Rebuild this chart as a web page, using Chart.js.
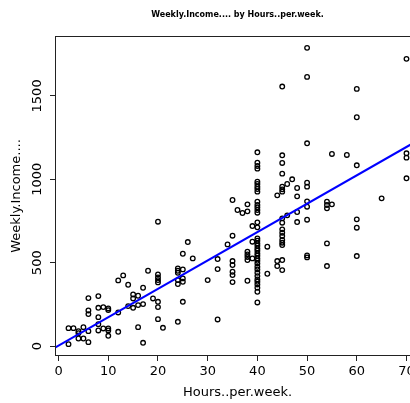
<!DOCTYPE html>
<html>
<head>
<meta charset="utf-8">
<title>Weekly Income by Hours per week</title>
<script src="https://cdn.jsdelivr.net/npm/chart.js@4.4.1/dist/chart.umd.min.js"></script>
<style>
    html, body { margin: 0; padding: 0; overflow: hidden; background: #fff; }
    #wrap { width: 410px; height: 403px; overflow: hidden; }
    canvas { display: block; }
</style>
</head>
<body>
<div id="wrap"><canvas id="scatterChart" width="440" height="403"></canvas></div>
<script>
(function () {
    'use strict';

    // ── Data ─────────────────────────────────────────────────────────
    var hourGroups = [2, 3, 4, 5, 6, 8, 9, 10, 12, 13, 14, 15, 16, 17, 18, 19, 20, 21,
                      24, 25, 26, 27, 30, 32, 34, 35, 36, 37, 38, 39, 40, 42, 44, 45,
                      46, 47, 48, 50, 54, 55, 58, 60, 65, 70];

    var incomeByHour = [
        [12, 108],
        [108],
        [90, 78, 46],
        [114, 46],
        [24, 90, 288, 214, 192],
        [300, 230, 174, 132, 94],
        [234, 106],
        [226, 216, 106, 94, 62],
        [394, 202, 86],
        [424],
        [368, 240],
        [310, 286, 230],
        [302, 246, 114],
        [350, 252, 20],
        [452],
        [286],
        [746, 430, 412, 396, 382, 266, 234, 162],
        [110],
        [466, 452, 440, 396, 372, 146],
        [554, 460, 406, 386, 266],
        [624],
        [526],
        [396],
        [522, 462, 160],
        [610],
        [876, 662, 510, 486, 446, 426, 384],
        [816],
        [798],
        [850, 808, 566, 550, 534, 516, 392],
        [720, 626, 526],
        [1162, 1100, 1080, 1064, 986, 972, 956, 942, 926, 866, 846, 832, 816, 800,
         742, 712, 646, 632, 616, 602, 586, 572, 556, 542, 526, 512, 496, 476,
         460, 440, 420, 400, 386, 370, 350, 326, 262],
        [596, 434],
        [904, 510, 480],
        [1556, 1144, 1098, 1034, 956, 940, 926, 766, 740, 700, 680, 660, 636, 620,
         606, 516, 456],
        [972, 784],
        [1000],
        [948, 898, 804, 744],
        [1788, 1614, 1216, 980, 956, 868, 836, 758, 544, 532],
        [866, 846, 826, 616, 480],
        [1152, 850],
        [1146],
        [1542, 1372, 1084, 760, 710, 540],
        [886],
        [1722, 1156, 1130, 1006]
    ];

    // fitted line (intercept / slope as seen in the picture)
    var fitIntercept = 4;
    var fitSlope     = 17.0;

    var xTicks = [0, 10, 20, 30, 40, 50, 60, 70];
    var yTicks = [0, 500, 1000, 1500];

    var xMin = -0.72, xMax = 72.72;
    var yMin = -59,   yMax = 1859;

    var FONT = "'DejaVu Sans', Verdana, sans-serif";

    // ── Build datasets ───────────────────────────────────────────────
    var points = [];
    hourGroups.forEach(function (h, i) {
        incomeByHour[i].forEach(function (v) { points.push({ x: h, y: v }); });
    });

    var fitLine = [
        { x: xMin, y: fitIntercept + fitSlope * xMin },
        { x: xMax, y: fitIntercept + fitSlope * xMax }
    ];

    // ── Extras: box, rotated y labels, main title ────────────────────
    var rExtras = {
        id: 'rExtras',
        afterDraw: function (chart) {
            var ctx = chart.ctx;
            var a = chart.chartArea;
            var ys = chart.scales.y;

            ctx.save();
            ctx.strokeStyle = '#222';
            ctx.lineWidth = 1;
            ctx.strokeRect(a.left + 0.5, a.top + 0.5, a.right - a.left, a.bottom - a.top - 1);

            ctx.fillStyle = '#000';
            ctx.font = '13px ' + FONT;
            ctx.textAlign = 'center';
            ctx.textBaseline = 'middle';
            yTicks.forEach(function (v) {
                ctx.save();
                ctx.translate(38, ys.getPixelForValue(v));
                ctx.rotate(-Math.PI / 2);
                ctx.fillText(String(v), 0, 0);
                ctx.restore();
            });

            ctx.font = 'bold 8px ' + FONT;
            ctx.fillText('Weekly.Income.... by Hours..per.week.', (a.left + a.right) / 2, 15);
            ctx.restore();
        }
    };

    var tickGrid = { display: true, drawOnChartArea: false, drawTicks: true, tickLength: 5, color: '#222', lineWidth: 1 };

    new Chart(document.getElementById('scatterChart'), {
        type: 'scatter',
        data: {
            datasets: [{
                type: 'line',
                data: fitLine,
                borderColor: '#0000ff',
                borderWidth: 2,
                pointRadius: 0,
                fill: false
            }, {
                data: points,
                pointStyle: 'circle',
                pointRadius: 2.3,
                borderWidth: 1.3,
                borderColor: '#000',
                backgroundColor: 'rgba(0,0,0,0)'
            }]
        },
        options: {
            responsive: false,
            animation: false,
            devicePixelRatio: 1,
            layout: { padding: { top: 36, right: 20, left: 0, bottom: 0 } },
            plugins: { legend: { display: false }, tooltip: { enabled: false } },
            scales: {
                x: {
                    type: 'linear',
                    min: xMin, max: xMax,
                    afterBuildTicks: function (s) { s.ticks = xTicks.map(function (v) { return { value: v }; }); },
                    afterFit: function (s) { s.height = 47; },
                    grid: tickGrid,
                    border: { display: false },
                    ticks: { color: '#000', font: { family: FONT, size: 13 }, padding: 3, maxRotation: 0, autoSkip: false },
                    title: { display: true, text: 'Hours..per.week.', color: '#000', font: { family: FONT, size: 13 }, padding: { top: 0, bottom: 3 } }
                },
                y: {
                    type: 'linear',
                    min: yMin, max: yMax,
                    afterBuildTicks: function (s) { s.ticks = yTicks.map(function (v) { return { value: v }; }); },
                    afterFit: function (s) { s.width = 55; },
                    grid: tickGrid,
                    border: { display: false },
                    ticks: { display: false },
                    title: { display: true, text: 'Weekly.Income....', color: '#000', font: { family: FONT, size: 13 }, padding: { top: 9, bottom: 0 } }
                }
            }
        },
        plugins: [rExtras]
    });
})();
</script>
</body>
</html>
